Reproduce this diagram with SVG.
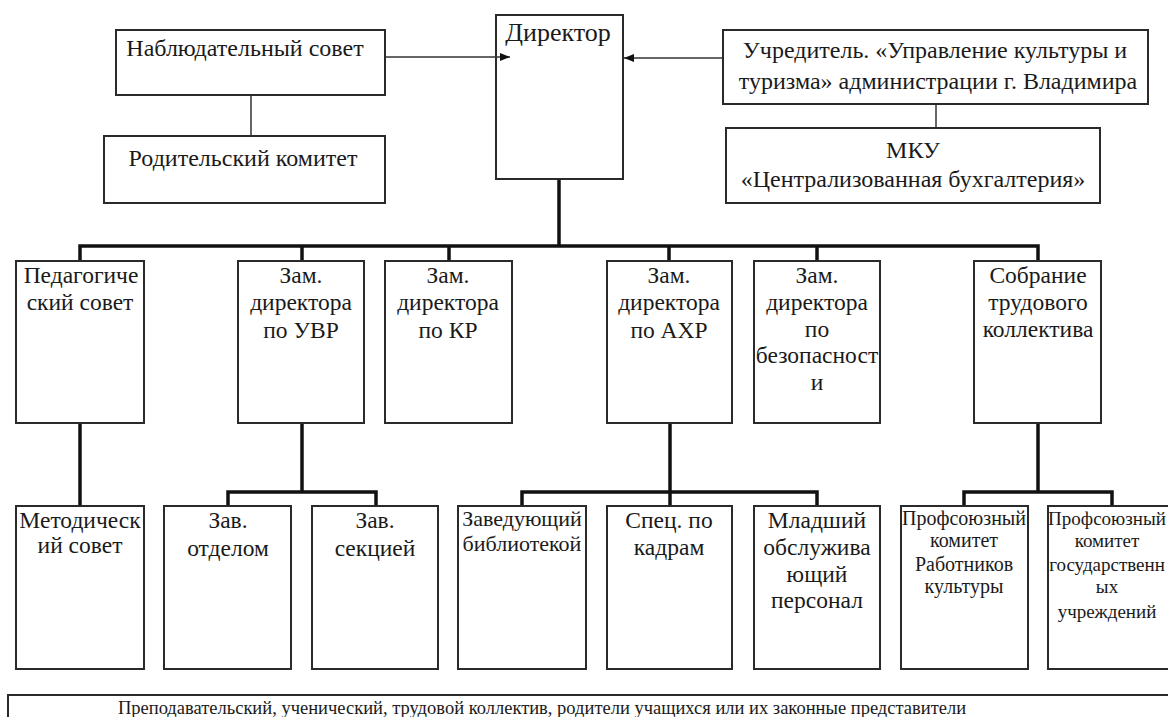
<svg xmlns="http://www.w3.org/2000/svg" width="1168" height="717" viewBox="0 0 1168 717" font-family="'Liberation Serif', 'Times New Roman', serif">
<style>
.b{fill:#fff;stroke:#2a2a2a;stroke-width:2}
text{font-family:'Liberation Serif','Times New Roman',serif;fill:#1a1a1a;text-anchor:middle}
.f26{font-size:26px}
.f24{font-size:24px}
.fc{font-size:23.5px}
.f22{font-size:22px}
.f20{font-size:20px}
.f19{font-size:19px}
.f18{font-size:18.5px}
.thin{stroke:#333;stroke-width:1.5;fill:none}
.thick{stroke:#111;stroke-width:3.5;fill:none}
</style>
<defs>
<marker id="ah" markerWidth="10" markerHeight="8" refX="10" refY="4" orient="auto" markerUnits="userSpaceOnUse">
<path d="M0,0 L10,4 L0,8 Z" fill="#111"/>
</marker>
</defs>
<rect width="1168" height="717" fill="#fff"/>
<g id="nablyud">
<rect class="b" x="116" y="30" width="269" height="65"/>
<text class="f24" x="245" y="56">Наблюдательный совет</text>
</g>
<g id="roditel">
<rect class="b" x="104" y="136" width="281" height="67"/>
<text class="f24" x="243" y="166">Родительский комитет</text>
</g>
<g id="direktor">
<rect class="b" x="496" y="15" width="127" height="164"/>
<text class="f26" x="558" y="41">Директор</text>
</g>
<g id="uchreditel">
<rect class="b" x="723" y="30" width="425" height="74"/>
<text class="f24" x="935" y="58">Учредитель. «Управление культуры и</text>
<text class="f24" x="938" y="89">туризма» администрации г. Владимира</text>
</g>
<g id="mku">
<rect class="b" x="726" y="128" width="374" height="75"/>
<text class="f24" x="913" y="158">МКУ</text>
<text class="f24" x="913" y="187">«Централизованная бухгалтерия»</text>
</g>
<g id="pedsovet">
<rect class="b" x="16" y="261" width="128" height="162"/>
<text class="fc" x="81" y="283">Педагогиче</text>
<text class="fc" x="80" y="310">ский совет</text>
</g>
<g id="zam-uvr">
<rect class="b" x="238" y="261" width="126" height="162"/>
<text class="fc" x="301" y="283">Зам.</text>
<text class="fc" x="301" y="310">директора</text>
<text class="fc" x="301" y="338">по УВР</text>
</g>
<g id="zam-kr">
<rect class="b" x="385" y="261" width="127" height="162"/>
<text class="fc" x="448" y="283">Зам.</text>
<text class="fc" x="448" y="310">директора</text>
<text class="fc" x="448" y="338">по КР</text>
</g>
<g id="zam-ahr">
<rect class="b" x="607" y="261" width="125" height="162"/>
<text class="fc" x="669" y="283">Зам.</text>
<text class="fc" x="669" y="310">директора</text>
<text class="fc" x="669" y="338">по АХР</text>
</g>
<g id="zam-bez">
<rect class="b" x="754" y="261" width="126" height="162"/>
<text class="fc" x="817" y="283">Зам.</text>
<text class="fc" x="817" y="310">директора</text>
<text class="fc" x="817" y="337">по</text>
<text class="fc" x="817" y="363">безопасност</text>
<text class="fc" x="817" y="390">и</text>
</g>
<g id="sobranie">
<rect class="b" x="974" y="261" width="127" height="162"/>
<text class="fc" x="1038" y="283">Собрание</text>
<text class="fc" x="1038" y="310">трудового</text>
<text class="fc" x="1038" y="337">коллектива</text>
</g>
<g id="metodsovet">
<rect class="b" x="16" y="506" width="128" height="163"/>
<text class="fc" x="80" y="528">Методическ</text>
<text class="fc" x="80" y="553">ий совет</text>
</g>
<g id="zav-otdel">
<rect class="b" x="164" y="506" width="127" height="163"/>
<text class="fc" x="228" y="528">Зав.</text>
<text class="fc" x="228" y="556">отделом</text>
</g>
<g id="zav-sekc">
<rect class="b" x="312" y="506" width="126" height="163"/>
<text class="fc" x="375" y="528">Зав.</text>
<text class="fc" x="375" y="556">секцией</text>
</g>
<g id="zav-bibl">
<rect class="b" x="458" y="506" width="128" height="163"/>
<text class="f22" x="522" y="526">Заведующий</text>
<text class="f22" x="522" y="551">библиотекой</text>
</g>
<g id="spec-kadr">
<rect class="b" x="607" y="506" width="125" height="163"/>
<text class="fc" x="669" y="528">Спец. по</text>
<text class="fc" x="669" y="555">кадрам</text>
</g>
<g id="mladshiy">
<rect class="b" x="754" y="506" width="126" height="163"/>
<text class="fc" x="817" y="528">Младший</text>
<text class="fc" x="817" y="555">обслужива</text>
<text class="fc" x="817" y="582">ющий</text>
<text class="fc" x="817" y="608">персонал</text>
</g>
<g id="profkom-kult">
<rect class="b" x="901" y="506" width="127" height="163"/>
<text class="f20" x="964" y="525">Профсоюзный</text>
<text class="f20" x="964" y="547">комитет</text>
<text class="f20" x="964" y="571">Работников</text>
<text class="f20" x="964" y="593">культуры</text>
</g>
<g id="profkom-gos">
<rect class="b" x="1048" y="506" width="128" height="163"/>
<text class="f19" x="1107" y="525">Профсоюзный</text>
<text class="f19" x="1107" y="547">комитет</text>
<text class="f19" x="1107" y="571">государственн</text>
<text class="f19" x="1107" y="593">ых</text>
<text class="f19" x="1107" y="618">учреждений</text>
</g>
<g id="kollektiv">
<rect class="b" x="8" y="695" width="1168" height="30"/>
<text class="f18" x="542" y="714">Преподавательский, ученический, трудовой коллектив, родители учащихся или их законные представители</text>
</g>
<g id="connectors">
<line class="thin" x1="386" y1="57" x2="510" y2="57" marker-end="url(#ah)"/>
<line class="thin" x1="722" y1="58" x2="624" y2="58" marker-end="url(#ah)"/>
<line class="thin" x1="251" y1="96" x2="251" y2="135"/>
<line class="thin" x1="936" y1="105" x2="936" y2="127"/>
<line class="thick" x1="559" y1="180" x2="559" y2="246"/>
<polyline class="thick" points="80,260 80,246 1038,246 1038,260"/>
<line class="thick" x1="302" y1="246" x2="302" y2="260"/>
<line class="thick" x1="449" y1="246" x2="449" y2="260"/>
<line class="thick" x1="669" y1="246" x2="669" y2="260"/>
<line class="thick" x1="817" y1="246" x2="817" y2="260"/>
<line class="thick" x1="80" y1="424" x2="80" y2="505"/>
<line class="thick" x1="302" y1="424" x2="302" y2="492"/>
<polyline class="thick" points="228,505 228,492 376,492 376,505"/>
<line class="thick" x1="670" y1="424" x2="670" y2="505"/>
<polyline class="thick" points="522,505 522,492 817,492 817,505"/>
<line class="thick" x1="1038" y1="424" x2="1038" y2="492"/>
<polyline class="thick" points="964,505 964,492 1112,492 1112,505"/>
</g>
</svg>
